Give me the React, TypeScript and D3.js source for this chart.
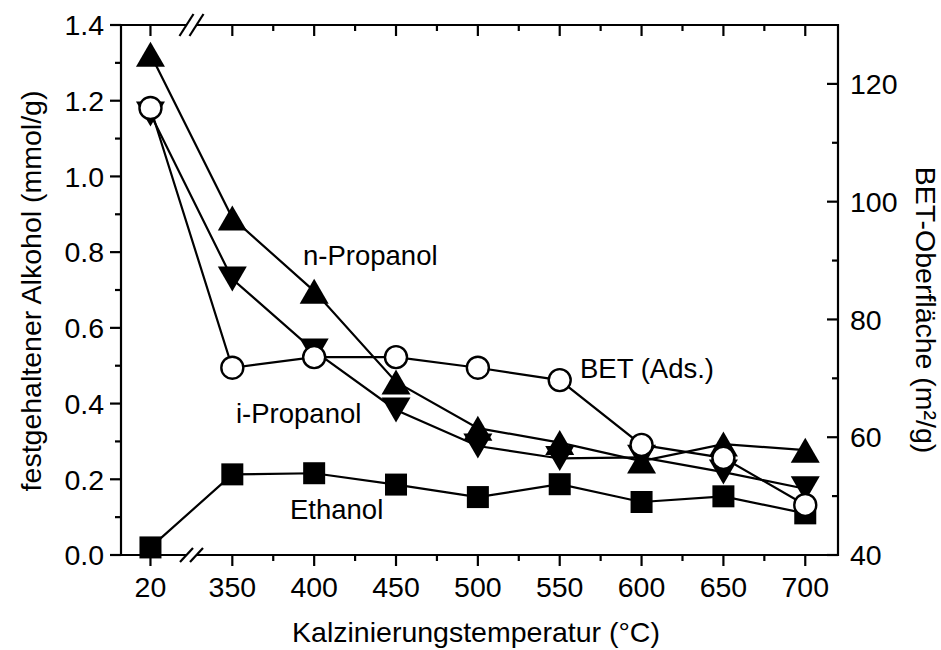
import React from "react";
import * as d3 from "d3";

const temperatures = [20, 350, 400, 450, 500, 550, 600, 650, 700];
const tempLabels = ["20", "350", "400", "450", "500", "550", "600", "650", "700"];
const minorTemps = [375, 425, 475, 525, 575, 625, 675];

const nPropanol = [1.323, 0.89, 0.697, 0.457, 0.335, 0.297, 0.248, 0.293, 0.277];
const iPropanol = [1.165, 0.729, 0.539, 0.383, 0.288, 0.255, 0.258, 0.219, 0.175];
const ethanol = [0.02, 0.213, 0.216, 0.186, 0.153, 0.187, 0.14, 0.155, 0.11];
const betArea = [115.9, 71.8, 73.6, 73.6, 71.8, 69.7, 58.7, 56.5, 48.5];

const leftMajor = [0, 0.2, 0.4, 0.6, 0.8, 1.0, 1.2, 1.4];
const leftMinor = [0.1, 0.3, 0.5, 0.7, 0.9, 1.1, 1.3];
const rightMajor = [40, 60, 80, 100, 120];
const rightMinor = [50, 70, 90, 110];

const FONT = "'Liberation Sans', Arial, sans-serif";

// broken axis: the 20 °C point is drawn one half-step before 350
const breakPos = (t: number) => (t < 300 ? 300 : t);

export default function App() {
  const W = 941, H = 650;
  const L = 121, R = 838, T = 25, B = 555;
  const x = d3.scaleLinear().domain([282, 720]).range([L, R]);
  const yL = d3.scaleLinear().domain([0, 1.4]).range([B, T]);
  const yR = d3.scaleLinear().domain([40, 130]).range([B, T]);
  const px = (i: number) => x(breakPos(temperatures[i]));

  const lineL = d3.line<number>().x((_, i) => px(i)).y((v) => yL(v));
  const lineR = d3.line<number>().x((_, i) => px(i)).y((v) => yR(v));

  const sw = 2.2;
  const majorLen = 11, minorLen = 6;
  const tickFs = 28.5;
  const labelFs = 27.5;
  const titleFs = 28.5;

  const triUp = (cx: number, cy: number) =>
    `M${cx},${cy - 12.5}L${cx + 14.5},${cy + 12.5}L${cx - 14.5},${cy + 12.5}Z`;
  const triDown = (cx: number, cy: number) =>
    `M${cx},${cy + 12.5}L${cx + 14.5},${cy - 12.5}L${cx - 14.5},${cy - 12.5}Z`;

  const b1 = 186.5, b2 = 196.5;

  return (
    <svg width={W} height={H} style={{ display: "block", position: "absolute", left: 0, top: 0 }} fontFamily={FONT}>
      <rect width={W} height={H} fill="white" />
      {/* series lines */}
      <g fill="none" stroke="black" strokeWidth={sw}>
        <path d={lineL(ethanol) || ""} />
        <path d={lineL(iPropanol) || ""} />
        <path d={lineL(nPropanol) || ""} />
        <path d={lineR(betArea) || ""} />
      </g>
      {/* markers */}
      {ethanol.map((v, i) => (
        <rect key={"e" + i} x={px(i) - 11} y={yL(v) - 11} width={22} height={22} fill="black" />
      ))}
      {iPropanol.map((v, i) => (
        <path key={"i" + i} d={triDown(px(i), yL(v))} fill="black" />
      ))}
      {nPropanol.map((v, i) => (
        <path key={"n" + i} d={triUp(px(i), yL(v))} fill="black" />
      ))}
      {betArea.map((v, i) => (
        <circle key={"b" + i} cx={px(i)} cy={yR(v)} r={11} fill="white" stroke="black" strokeWidth={2.4} />
      ))}

      {/* frame */}
      <g stroke="black" strokeWidth={sw} fill="none">
        <line x1={L} y1={T - 1} x2={L} y2={B + 1} />
        <line x1={R} y1={T - 1} x2={R} y2={B + 1} />
        <line x1={L} y1={B} x2={b1} y2={B} />
        <line x1={b2} y1={B} x2={R} y2={B} />
        <line x1={L} y1={T} x2={b1} y2={T} />
        <line x1={b2} y1={T} x2={R} y2={T} />
        {/* break marks */}
        <line x1={b1 - 6.5} y1={B + 7} x2={b1 + 6.5} y2={B - 7} />
        <line x1={b2 - 6.5} y1={B + 7} x2={b2 + 6.5} y2={B - 7} />
        <line x1={b1 - 7} y1={T + 11} x2={b1 + 7} y2={T - 11} />
        <line x1={b2 - 7} y1={T + 11} x2={b2 + 7} y2={T - 11} />
        {/* x ticks bottom (out) and top (in) */}
        {temperatures.map((t, i) => (
          <g key={"xt" + i}>
            <line x1={x(breakPos(t))} y1={B} x2={x(breakPos(t))} y2={B + majorLen} />
            <line x1={x(breakPos(t))} y1={T} x2={x(breakPos(t))} y2={T + majorLen} />
          </g>
        ))}
        {minorTemps.map((t) => (
          <g key={"xm" + t}>
            <line x1={x(t)} y1={B} x2={x(t)} y2={B + minorLen} />
            <line x1={x(t)} y1={T} x2={x(t)} y2={T + minorLen} />
          </g>
        ))}
        {/* left ticks (out) */}
        {leftMajor.map((v) => (
          <line key={"lm" + v} x1={L - majorLen} y1={yL(v)} x2={L} y2={yL(v)} />
        ))}
        {leftMinor.map((v) => (
          <line key={"ln" + v} x1={L - minorLen} y1={yL(v)} x2={L} y2={yL(v)} />
        ))}
        {/* right ticks (in) */}
        {rightMajor.map((v) => (
          <line key={"rm" + v} x1={R - majorLen} y1={yR(v)} x2={R} y2={yR(v)} />
        ))}
        {rightMinor.map((v) => (
          <line key={"rn" + v} x1={R - minorLen} y1={yR(v)} x2={R} y2={yR(v)} />
        ))}
      </g>

      {/* tick labels */}
      <g fontSize={tickFs} fill="black">
        {temperatures.map((t, i) => (
          <text key={"xl" + i} x={x(breakPos(t))} y={597} textAnchor="middle">
            {tempLabels[i]}
          </text>
        ))}
        {leftMajor.map((v) => (
          <text key={"ll" + v} x={104} y={yL(v)} dy="0.36em" textAnchor="end">
            {d3.format(".1f")(v)}
          </text>
        ))}
        {rightMajor.map((v) => (
          <text key={"rl" + v} x={850} y={yR(v)} dy="0.36em" textAnchor="start">
            {String(v)}
          </text>
        ))}
      </g>

      {/* axis titles */}
      <g fontSize={titleFs} fill="black">
        <text x={476} y={642} textAnchor="middle">
          Kalzinierungstemperatur (°C)
        </text>
        <text transform={`translate(41,291) rotate(-90)`} textAnchor="middle">
          festgehaltener Alkohol (mmol/g)
        </text>
        <text transform={`translate(916,310) rotate(90)`} textAnchor="middle">
          BET-Oberfläche (m²/g)
        </text>
      </g>

      {/* series labels */}
      <g fontSize={labelFs} fill="black">
        <text x={303} y={265}>n-Propanol</text>
        <text x={236} y={423}>i-Propanol</text>
        <text x={290} y={519}>Ethanol</text>
        <text x={580} y={378}>BET (Ads.)</text>
      </g>
    </svg>
  );
}
